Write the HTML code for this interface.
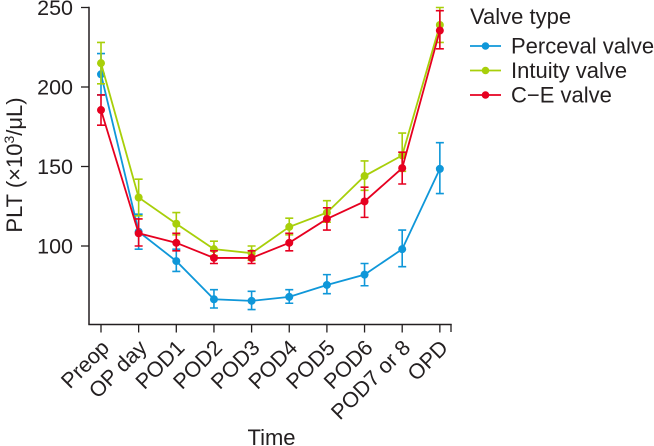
<!DOCTYPE html>
<html>
<head>
<meta charset="utf-8">
<style>
html,body{margin:0;padding:0;background:#fff;}
svg{display:block;}
text{font-family:"Liberation Sans",Arial,sans-serif;fill:#231f20;}
</style>
</head>
<body>
<svg id="chart" width="654" height="446" viewBox="0 0 654 446" xmlns="http://www.w3.org/2000/svg"></svg>
<script>
const categories = ['Preop','OP day','POD1','POD2','POD3','POD4','POD5','POD6','POD7 or 8','OPD'];
const yTicks = [100,150,200,250];
const perceval = [208,109,90.5,66.5,65.5,68,75.5,82,98,148.5];
const percevalHi = [221,120,98,72.5,71.5,72.5,82,89,110,165];
const percevalLo = [195,98,84,61,60,64,70,75,87,133];
const intuity = [215,130.5,114,98,95.5,112,121,144,157,239];
const intuityHi = [228,142,121,103,100,117.5,128.5,153.5,171,250];
const intuityLo = [202,119,107,94,91,107,115,135,147,228];
const ce = [185.5,108,102,92.5,92.5,102,117,128,149,235.5];
const ceHi = [195,117,108,97,97,108,124,137,159,248];
const ceLo = [176,100,97,89,89,97,110,118,139,224];

const NS = 'http://www.w3.org/2000/svg';
const svg = document.getElementById('chart');
const X = i => 101 + i * 37.65;
const Y = v => 246 - (v - 100) * 1.59;
const axisColor = '#231f20';

function mk(tag, attrs, parent) {
  const e = document.createElementNS(NS, tag);
  for (const k in attrs) e.setAttribute(k, attrs[k]);
  (parent || svg).appendChild(e);
  return e;
}

// Axes
const yAxis = mk('line', {x1:89, y1:Y(250)-0.7, x2:89, y2:324.5, stroke:axisColor, 'stroke-width':1.5});


const xAxis = mk('line', {x1:88.3, y1:324.5, x2:451.7, y2:324.5, stroke:axisColor, 'stroke-width':1.5});


const xEnd = mk('line', {x1:451, y1:324, x2:451, y2:332, stroke:axisColor, 'stroke-width':1.3});



yTicks.forEach(v => {
  const t = mk('line', {x1:81, y1:Y(v), x2:89, y2:Y(v), stroke:axisColor, 'stroke-width':1.3});
  
  
  const l = mk('text', {x:73, y:Y(v)+7.5, 'text-anchor':'end', 'font-size':21.5});
  
  
  l.textContent = v;
});

categories.forEach((c, i) => {
  const t = mk('line', {x1:X(i), y1:324, x2:X(i), y2:332.5, stroke:axisColor, 'stroke-width':1.3});
  
  
  const l = mk('text', {
    x:0, y:0, 'text-anchor':'end', 'font-size':21.5,
    transform:'translate(' + (X(i)+9.5) + ',349) rotate(-45)'
  });
  
  
  l.textContent = c;
});

// Series
function drawSeries(name, color, vals, hi, lo) {
  const g = mk('g', {});
  
  
  vals.forEach((v, i) => {
    const d = 'M' + (X(i)-4) + ' ' + Y(hi[i]) + 'H' + (X(i)+4) +
              'M' + X(i) + ' ' + Y(hi[i]) + 'V' + Y(lo[i]) +
              'M' + (X(i)-4) + ' ' + Y(lo[i]) + 'H' + (X(i)+4);
    const e = mk('path', {d:d, fill:'none', stroke:color, 'stroke-width':1.6}, g);
    
    
  });
  const line = mk('polyline', {
    points: vals.map((v, i) => X(i) + ',' + Y(v)).join(' '),
    fill:'none', stroke:color, 'stroke-width':1.8
  }, g);
  
  
  vals.forEach((v, i) => {
    const p = mk('circle', {cx:X(i), cy:Y(v), r:4, fill:color}, g);
    
    
  });
}
drawSeries('perceval', '#0f97d9', perceval, percevalHi, percevalLo);
drawSeries('intuity', '#a8cf0a', intuity, intuityHi, intuityLo);
drawSeries('ce', '#e60020', ce, ceHi, ceLo);

// Axis titles
const yTitle = mk('text', {x:0, y:0, 'text-anchor':'middle', 'font-size':22, transform:'translate(22,165) rotate(-90)'});


yTitle.innerHTML = 'PLT (×10<tspan font-size="14" dy="-8">3</tspan><tspan dy="8">/μL)</tspan>';
const xTitle = mk('text', {x:271.5, y:445, 'text-anchor':'middle', 'font-size':22});


xTitle.textContent = 'Time';

// Legend
const legendTitle = mk('text', {x:470, y:24, 'font-size':22});


legendTitle.textContent = 'Valve type';
const legendNames = ['Perceval valve','Intuity valve','C\u2212E valve'];
const legendColors = ['#0f97d9','#a8cf0a','#e60020'];
legendNames.forEach((n, i) => {
  const y = 46 + i * 24.5;
  const g = mk('g', {});
  
  
  mk('line', {x1:470, y1:y, x2:501, y2:y, stroke:legendColors[i], 'stroke-width':1.8}, g);
  mk('circle', {cx:485.5, cy:y, r:3.8, fill:legendColors[i]}, g);
  const t = mk('text', {x:511, y:y+7.5, 'font-size':22}, g);
  t.textContent = n;
});
</script>
</body>
</html>
